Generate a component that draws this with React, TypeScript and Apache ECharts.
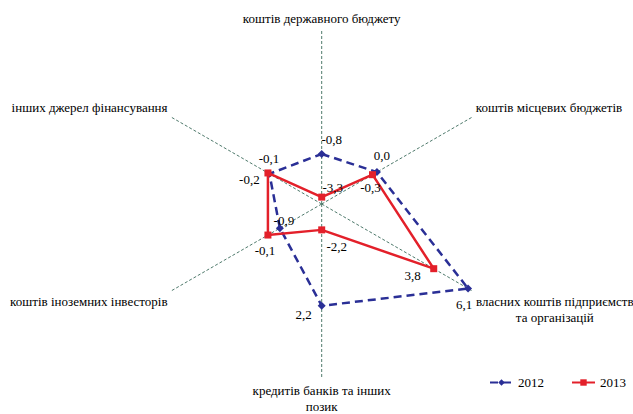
import React, { useEffect, useRef } from "react";
import * as echarts from "echarts";

const indicators = [
  "коштів державного бюджету",
  "коштів місцевих бюджетів",
  "власних коштів підприємств та організацій",
  "кредитів банків та інших позик",
  "коштів іноземних інвесторів",
  "інших джерел фінансування",
];
const angles = [0, 60, 120, 180, 240, 300];
const values2012 = [-0.8, 0.0, 6.1, 2.2, -0.9, -0.2];
const values2013 = [-3.3, -0.3, 3.8, -2.2, -0.1, -0.1];
const seriesNames = ["2012", "2013"];

const labelOffsets2012 = [[10, -14], [5, -17], [-4, 16], [-18, 9], [4, -8], [-20, 6]];
const labelOffsets2013 = [[11, -10], [-2, 13], [-21, 7], [15, 17], [-3, 15], [1, -14]];

const FONT = "serif";

const fmt = (v: number) => v.toFixed(1).replace(".", ",");

function buildData(values: number[], offsets: number[][]) {
  const items: any[] = values.map((v, i) => ({
    value: [v, angles[i]],
    label: { offset: offsets[i] },
  }));
  items.push({
    value: [values[0], 360],
    symbol: "none",
    label: { show: false },
  });
  return items;
}

export default function App() {
  const ref = useRef<HTMLDivElement>(null);
  useEffect(() => {
    if (!ref.current) return;
    const chart = echarts.init(ref.current, null, { renderer: "svg" });
    const nameFor = (val: number) => {
      const idx = angles.indexOf(val);
      if (idx < 0) return "";
      if (idx === 2) return "{lr|власних коштів підприємств}\n{lr|та організацій}";
      if (idx === 3) return "кредитів банків та інших\nпозик";
      return indicators[idx];
    };
    chart.setOption({
      animation: false,
      backgroundColor: "#ffffff",
      textStyle: { fontFamily: FONT },
      polar: { center: [321.7, 204], radius: 173 },
      angleAxis: {
        type: "value",
        min: 0,
        max: 360,
        interval: 60,
        startAngle: 90,
        clockwise: true,
        axisLine: { show: false },
        axisTick: { show: false },
        axisLabel: {
          show: true,
          margin: 5,
          color: "#000",
          fontSize: 13,
          fontFamily: FONT,
          lineHeight: 16,
          formatter: (v: number) => nameFor(v),
          rich: {
            lr: { width: 158, align: "center", fontSize: 13, fontFamily: FONT, color: "#000", lineHeight: 16 },
          },
        },
        splitLine: {
          show: true,
          lineStyle: { color: "#4f7a6c", width: 1, type: [3, 2] },
        },
      },
      radiusAxis: {
        type: "value",
        min: -3.7,
        max: 6.33,
        axisLine: { show: false },
        axisTick: { show: false },
        axisLabel: { show: false },
        splitLine: { show: false },
      },
      legend: {
        data: seriesNames,
        right: 2,
        top: 371,
        itemWidth: 23,
        itemHeight: 8,
        itemGap: 27,
        textStyle: { fontSize: 13, fontFamily: FONT, color: "#000" },
      },
      series: [
        {
          name: seriesNames[0],
          type: "line",
          coordinateSystem: "polar",
          data: buildData(values2012, labelOffsets2012),
          symbol: "diamond",
          symbolSize: 8,
          itemStyle: { color: "#2a2f96" },
          lineStyle: { color: "#2a2f96", width: 2.5, type: [8, 5] },
          label: {
            show: true,
            position: "inside",
            color: "#000",
            fontSize: 13,
            fontFamily: FONT,
            formatter: (p: any) => fmt(p.value[0]),
          },
          z: 2,
        },
        {
          name: seriesNames[1],
          type: "line",
          coordinateSystem: "polar",
          data: buildData(values2013, labelOffsets2013),
          symbol: "rect",
          symbolSize: 7,
          itemStyle: { color: "#e3202a" },
          lineStyle: { color: "#e3202a", width: 2.5 },
          label: {
            show: true,
            position: "inside",
            color: "#000",
            fontSize: 13,
            fontFamily: FONT,
            formatter: (p: any) => fmt(p.value[0]),
          },
          z: 3,
        },
      ],
    });
    return () => chart.dispose();
  }, []);
  return (
    <div
      ref={ref}
      style={{ position: "absolute", left: 0, top: 0, width: 633, height: 414 }}
    />
  );
}
